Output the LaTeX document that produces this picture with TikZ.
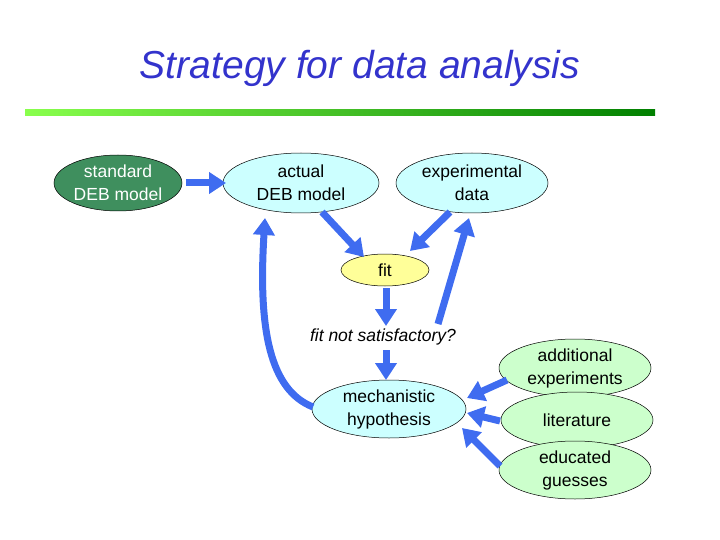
\documentclass[tikz,border=0pt]{standalone}
\usepackage{fontspec}
\setmainfont{Liberation Sans}
\usetikzlibrary{shapes.geometric,arrows.meta}
\definecolor{ttl}{HTML}{3333CC}
\definecolor{arr}{HTML}{3F6CF0}
\definecolor{cy}{HTML}{CCFFFF}
\definecolor{lg}{HTML}{CCFFCC}
\definecolor{dg}{HTML}{3F8F5E}
\definecolor{ye}{HTML}{FFFF99}
\begin{document}
\begin{tikzpicture}[x=1pt,y=-1pt,
  el/.style={ellipse,draw=black,line width=0.5pt,inner sep=0pt,align=center,font=\fontsize{17.5}{23}\selectfont},
  ar/.style={draw=arr,line width=7pt,-{Triangle[length=17pt,width=21pt]}}]
\useasboundingbox (0,0) rectangle (720,540);
\node[font=\fontsize{39}{44}\selectfont\itshape,text=ttl] (title) at (360,68) {Strategy for data analysis};
\shade[left color=green!55!lime!70,right color=green!50!black] (25,110) rectangle (655,116);
\node[el,fill=dg,text=white,minimum width=128,minimum height=56] (std) at (118,183) {standard\\DEB model};
\node[el,fill=cy,minimum width=156,minimum height=60] (act) at (301,183) {actual\\DEB model};
\node[el,fill=cy,minimum width=152,minimum height=60] (exp) at (472,183) {experimental\\data};
\node[el,fill=ye,minimum width=88,minimum height=32] (fit) at (385,270) {fit};
\node[font=\fontsize{17.5}{22}\selectfont\itshape] (q) at (383,337) {fit not satisfactory?};
\node[el,fill=cy,minimum width=154,minimum height=58] (mech) at (389,409) {mechanistic\\hypothesis};
\node[el,fill=lg,minimum width=152,minimum height=58] (add) at (575,368) {additional\\experiments};
\node[el,fill=lg,minimum width=152,minimum height=56] (lit) at (577,420) {literature};
\node[el,fill=lg,minimum width=152,minimum height=58] (edu) at (575,470) {educated\\guesses};
\coordinate (a1) at (186,183); \coordinate (a2) at (226,183);
\draw[ar] (a1) -- (a2);
\coordinate (b1) at (322,212); \coordinate (b2) at (364,257);
\draw[ar] (b1) -- (b2);
\coordinate (c1) at (450,212); \coordinate (c2) at (410,251);
\draw[ar] (c1) -- (c2);
\coordinate (d1) at (386,288); \coordinate (d2) at (386,326);
\draw[ar] (d1) -- (d2);
\coordinate (e1) at (438,324); \coordinate (e2) at (469,218);
\draw[ar] (e1) -- (e2);
\coordinate (f1) at (386,350); \coordinate (f2) at (386,380);
\draw[ar] (f1) -- (f2);
\coordinate (g1) at (313,407); \coordinate (g2) at (265,218);
\draw[ar] (g1) .. controls (270,390) and (258,330) .. (g2);
\coordinate (h1) at (507,380); \coordinate (h2) at (467,398);
\draw[ar] (h1) -- (h2);
\coordinate (i1) at (500,421); \coordinate (i2) at (467,413);
\draw[ar] (i1) -- (i2);
\coordinate (j1) at (500,466); \coordinate (j2) at (462,428);
\draw[ar] (j1) -- (j2);
\end{tikzpicture}
\end{document}
